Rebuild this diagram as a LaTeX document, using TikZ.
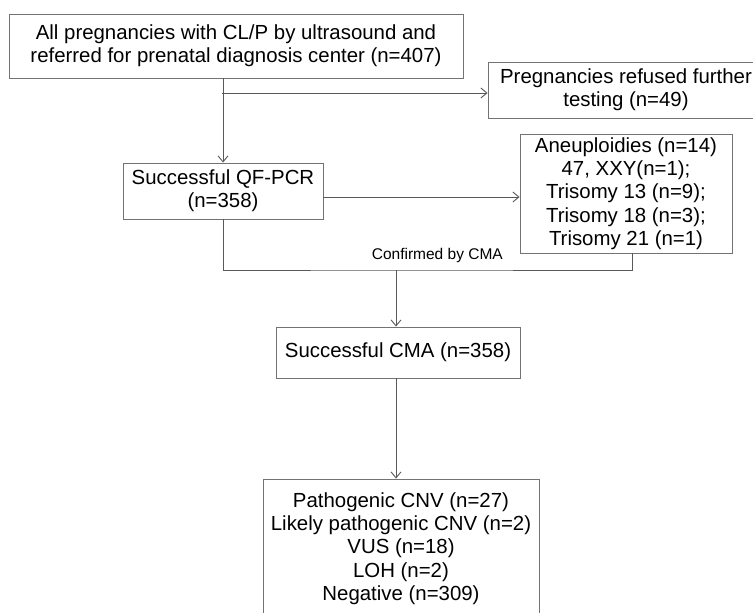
\documentclass[tikz,border=0pt]{standalone}
\usepackage{fontspec}
\setmainfont{Liberation Sans}
\usetikzlibrary{arrows.meta,positioning}

\begin{document}
\begin{tikzpicture}[
  x=1pt, y=-1pt,
  box/.style={rectangle, draw=black!55, line width=0.9pt, align=center, inner sep=0pt,
    font=\fontsize{20.4}{23.3}\selectfont},
  link/.style={draw=black!65, line width=0.9pt},
  >={Straight Barb[length=6pt, width=10pt, line width=0.9pt]}
]
  \useasboundingbox (0,0) rectangle (753,613);
  \node[box, minimum width=454pt, minimum height=64pt] (all) at (236,46)
    {All pregnancies with CL/P by ultrasound and\\referred for prenatal diagnosis center (n=407)};
  \node[box, minimum width=276pt, minimum height=56pt] (refused) at (626,90)
    {Pregnancies refused further\\testing (n=49)};
  \node[box, minimum width=200pt, minimum height=56pt] (qfpcr) at (223,191)
    {Successful QF-PCR\\(n=358)};
  \node[box, minimum width=212pt, minimum height=119pt] (aneu) at (626,193.5)
    {Aneuploidies (n=14)\\47, XXY(n=1);\\Trisomy 13 (n=9);\\Trisomy 18 (n=3);\\Trisomy 21 (n=1)};
  \node[box, minimum width=244pt, minimum height=51pt] (cma) at (398,352.5)
    {Successful CMA (n=358)};
  \node[box, minimum width=276pt, minimum height=139pt] (result) at (401,548.5)
    {Pathogenic CNV (n=27)\\Likely pathogenic CNV (n=2)\\VUS (n=18)\\LOH (n=2)\\Negative (n=309)};
  \coordinate (split) at (222,93);
  \coordinate (join) at (396,270);
  \node[font=\fontsize{15.5}{17}\selectfont, anchor=south east, inner sep=0pt] (confirmed) at (503,263)
    {Confirmed by CMA};

  \draw[link, ->] (qfpcr.north |- all.south) -- (qfpcr.north);
  \draw[link, ->] (split) -- (split -| refused.west);
  \draw[link, ->] ([yshift=-6pt]qfpcr.east) -- ([yshift=-6pt]qfpcr.east -| aneu.west);
  \draw[link] (qfpcr.south) |- (join) -| ([xshift=6pt]aneu.south);
  \draw[link, ->] (join) -- (join |- cma.north);
  \draw[link, ->] (join |- cma.south) -- (join |- result.north);
\end{tikzpicture}
\end{document}
